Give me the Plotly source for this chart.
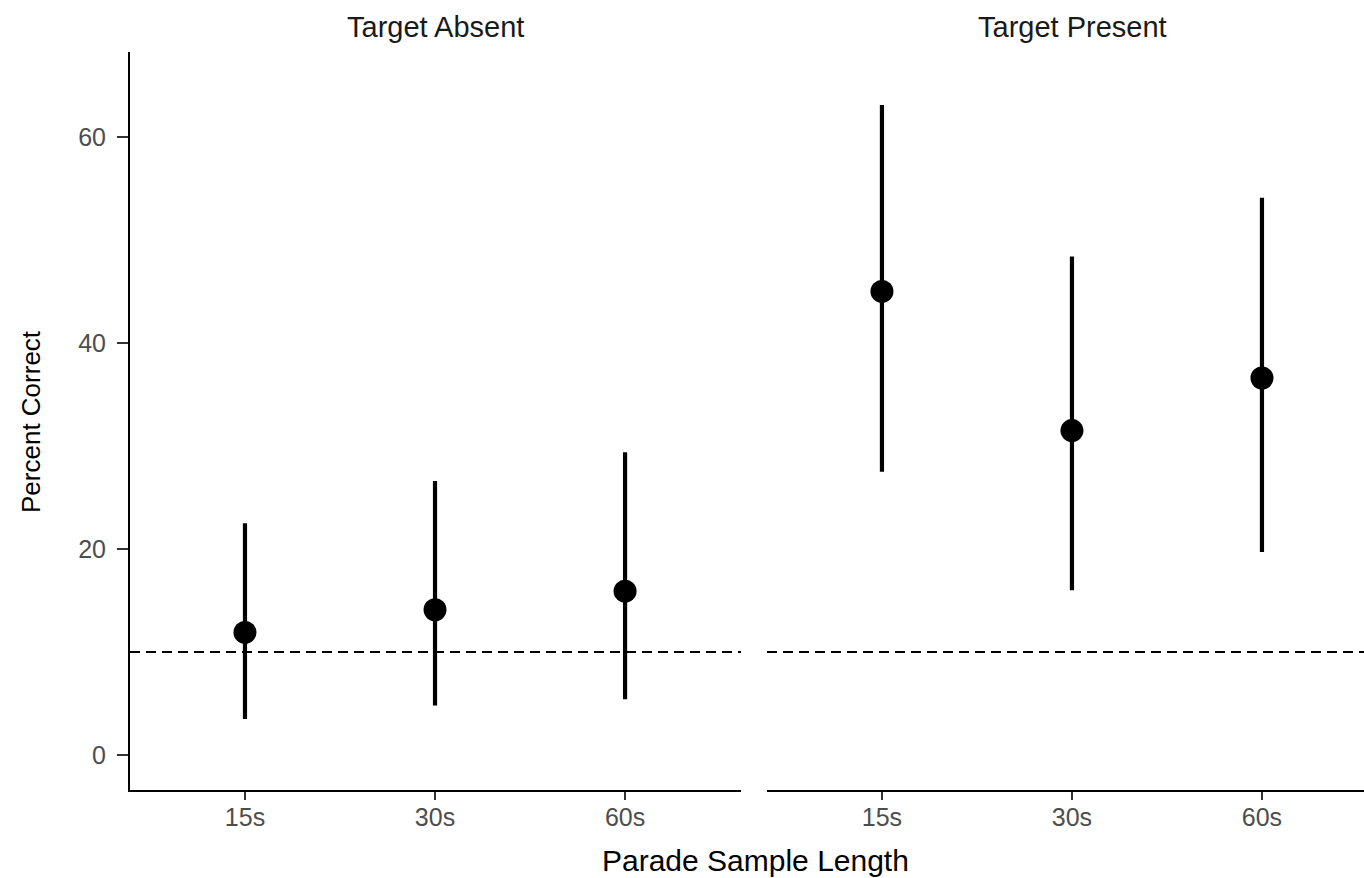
import plotly.graph_objects as go

categories = ["15s", "30s", "60s"]
panels = ["Target Absent", "Target Present"]

absent_mean = [11.9, 14.1, 15.9]
absent_lower = [3.5, 4.8, 5.4]
absent_upper = [22.5, 26.6, 29.4]

present_mean = [45.0, 31.5, 36.6]
present_lower = [27.5, 16.0, 19.7]
present_upper = [63.1, 48.4, 54.1]

chance_level = 10
y_ticks = [0, 20, 40, 60]

W, H = 1364, 878
L, R, T, B = 130, 0, 52, 88
plot_w = W - L - R
plot_h = H - T - B
left_dom = [0, (741 - L) / plot_w]
right_dom = [(767 - L) / plot_w, 1]


def px_(pix):
    return (pix - L) / plot_w


def py(pix):
    return (H - B - pix) / plot_h


fig = go.Figure()
xs = list(range(len(categories)))

for means, lows, ups, xa, ya in [
    (absent_mean, absent_lower, absent_upper, "x", "y"),
    (present_mean, present_lower, present_upper, "x2", "y2"),
]:
    fig.add_trace(go.Scatter(
        x=xs, y=means, mode="markers", xaxis=xa, yaxis=ya,
        marker=dict(color="black", size=23, line=dict(width=0)),
        error_y=dict(type="data", symmetric=False,
                     array=[u - m for u, m in zip(ups, means)],
                     arrayminus=[m - l for m, l in zip(means, lows)],
                     thickness=4.2, width=0, color="black"),
        showlegend=False, hoverinfo="skip",
    ))
    fig.add_shape(type="line", xref=f"{xa} domain", yref=ya,
                  x0=0, x1=1, y0=chance_level, y1=chance_level,
                  line=dict(color="black", width=1.8, dash="10px,6px"), layer="below")

FONT = "Liberation Sans, Arial, sans-serif"
tickfont = dict(family=FONT, size=25, color="#4D4D4D")
xcommon = dict(tickmode="array", tickvals=xs, ticktext=categories,
               showline=True, linecolor="black", linewidth=2,
               ticks="outside", ticklen=8, tickwidth=2, tickcolor="#333333",
               ticklabelstandoff=-4,
               showgrid=False, zeroline=False, tickfont=tickfont, fixedrange=True)
y_range = [-3.4, 68.25]

fig.update_layout(
    width=W, height=H,
    margin=dict(l=L, r=R, t=T, b=B),
    paper_bgcolor="white", plot_bgcolor="white",
    font=dict(family=FONT, color="black"),
    xaxis=dict(domain=left_dom, range=[-0.605, 2.61], anchor="y", **xcommon),
    xaxis2=dict(domain=right_dom, range=[-0.605, 2.537], anchor="y2", **xcommon),
    yaxis=dict(domain=[0, 1], range=y_range, tickvals=y_ticks,
               showline=True, linecolor="black", linewidth=2,
               ticks="outside", ticklen=11, tickwidth=2, tickcolor="#333333",
               ticklabelstandoff=6,
               showgrid=False, zeroline=False, tickfont=tickfont, anchor="x"),
    yaxis2=dict(domain=[0, 1], range=y_range, tickvals=y_ticks, matches="y",
                showline=False, showticklabels=False, ticks="",
                showgrid=False, zeroline=False, anchor="x2"),
    annotations=[
        dict(text=panels[0], xref="paper", yref="paper",
             x=px_(435), xanchor="center", y=py(27), yanchor="middle", showarrow=False,
             font=dict(size=29, color="#1A1A1A")),
        dict(text=panels[1], xref="paper", yref="paper",
             x=px_(1072), xanchor="center", y=py(27), yanchor="middle", showarrow=False,
             font=dict(size=29, color="#1A1A1A")),
        dict(text="Parade Sample Length", xref="paper", yref="paper",
             x=px_(755), xanchor="center", y=py(861), yanchor="middle", showarrow=False,
             font=dict(size=30, color="black")),
        dict(text="Percent Correct", xref="paper", yref="paper",
             x=px_(31), xanchor="center", y=py(421), yanchor="middle",
             textangle=-90, showarrow=False, font=dict(size=26, color="black")),
    ],
)

fig.write_html("out.html")
